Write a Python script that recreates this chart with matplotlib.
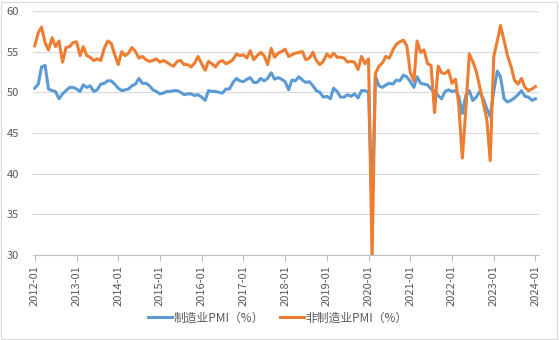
import matplotlib
matplotlib.use("Agg")
import matplotlib.pyplot as plt
import matplotlib.dates as mdates
import matplotlib.patches as patches
import pandas as pd

plt.rcParams['font.family'] = ['Noto Sans CJK SC', 'DejaVu Sans']

# monthly, 2012-01 .. 2024-01
months = pd.date_range('2012-01-01', periods=145, freq='MS')

# 制造业PMI
mfg_pmi = [
    50.5, 51.0, 53.1, 53.3, 50.4, 50.2, 50.1, 49.2, 49.8, 50.2, 50.6, 50.6,
    50.4, 50.1, 50.9, 50.6, 50.8, 50.1, 50.3, 51.0, 51.1, 51.4, 51.4, 51.0,
    50.5, 50.2, 50.3, 50.4, 50.8, 51.0, 51.7, 51.1, 51.1, 50.8, 50.3, 50.1,
    49.8, 49.9, 50.1, 50.1, 50.2, 50.2, 50.0, 49.7, 49.8, 49.8, 49.6, 49.7,
    49.4, 49.0, 50.2, 50.1, 50.1, 50.0, 49.9, 50.4, 50.4, 51.2, 51.7, 51.4,
    51.3, 51.6, 51.8, 51.2, 51.2, 51.7, 51.4, 51.7, 52.4, 51.6, 51.8, 51.6,
    51.3, 50.3, 51.5, 51.4, 51.9, 51.5, 51.2, 51.3, 50.8, 50.2, 50.0, 49.4,
    49.5, 49.2, 50.5, 50.1, 49.4, 49.4, 49.7, 49.5, 49.8, 49.3, 50.2, 50.2,
    50.0, 35.7, 52.0, 50.8, 50.6, 50.9, 51.1, 51.0, 51.5, 51.4, 52.1, 51.9,
    51.3, 50.6, 51.9, 51.1, 51.0, 50.9, 50.4, 50.1, 49.6, 49.2, 50.1, 50.3,
    50.1, 50.2, 49.5, 47.4, 49.6, 50.2, 49.0, 49.4, 50.1, 49.2, 48.0, 47.0,
    50.1, 52.6, 51.9, 49.2, 48.8, 49.0, 49.3, 49.7, 50.2, 49.5, 49.4, 49.0,
    49.2,
]

# 非制造业PMI
non_mfg_pmi = [
    55.7, 57.3, 58.0, 56.1, 55.2, 56.7, 55.6, 56.3, 53.7, 55.5, 55.6, 56.1,
    56.2, 54.5, 55.6, 54.5, 54.3, 53.9, 54.1, 53.9, 55.4, 56.3, 56.0, 54.6,
    53.4, 55.0, 54.5, 54.8, 55.5, 55.0, 54.2, 54.4, 54.0, 53.8, 53.9, 54.1,
    53.7, 53.9, 53.7, 53.4, 53.2, 53.8, 53.9, 53.4, 53.4, 53.1, 53.6, 54.4,
    53.5, 52.7, 53.8, 53.5, 53.1, 53.7, 53.9, 53.5, 53.7, 54.0, 54.7, 54.5,
    54.6, 54.2, 55.1, 54.0, 54.5, 54.9, 54.5, 53.4, 55.4, 54.3, 54.8, 55.0,
    55.3, 54.4, 54.6, 54.8, 54.9, 55.0, 54.0, 54.2, 54.9, 53.9, 53.4, 53.8,
    54.7, 54.3, 54.8, 54.3, 54.3, 54.2, 53.7, 53.8, 53.7, 52.8, 54.4, 53.5,
    54.1, 29.6, 52.3, 53.2, 53.6, 54.4, 54.2, 55.2, 55.9, 56.2, 56.4, 55.7,
    52.4, 51.4, 56.3, 54.9, 55.2, 53.5, 53.3, 47.5, 53.2, 52.4, 52.3, 52.7,
    51.1, 51.6, 48.4, 41.9, 47.8, 54.7, 53.8, 52.6, 50.6, 48.7, 46.7, 41.6,
    54.4, 56.3, 58.2, 56.4, 54.5, 53.2, 51.5, 51.0, 51.7, 50.6, 50.2, 50.4,
    50.7,
]

series_labels = ['制造业PMI（%）', '非制造业PMI（%）']

fig = plt.figure(figsize=(5.59, 3.40), dpi=100)
ax = fig.add_axes([0.059, 0.25, 0.905, 0.718])

ax.plot(months, mfg_pmi, color='#5B9BD5', lw=2.2, label=series_labels[0])
ax.plot(months, non_mfg_pmi, color='#ED7D31', lw=2.2, label=series_labels[1])

ax.set_ylim(30, 60)
ax.set_yticks(range(30, 61, 5))
ax.set_xlim(months[0] - pd.Timedelta(days=15), months[-1] + pd.Timedelta(days=30))
ax.xaxis.set_major_locator(mdates.MonthLocator(bymonth=1))
ax.xaxis.set_major_formatter(mdates.DateFormatter('%Y-%m'))
plt.setp(ax.get_xticklabels(), rotation=90)

ax.grid(axis='y', color='#D9D9D9', lw=0.8)
ax.set_axisbelow(True)
for s in ['top', 'right', 'left']:
    ax.spines[s].set_visible(False)
ax.spines['bottom'].set_color('#BFBFBF')
ax.tick_params(axis='x', colors='#BFBFBF', labelcolor='#595959', labelsize=8, length=4, width=0.8)
ax.tick_params(axis='y', length=0, labelcolor='#595959', labelsize=8, pad=10)

fig.legend(loc='center', bbox_to_anchor=(0.497, 0.065), ncol=2, frameon=False,
           fontsize=8.5, handlelength=2.0, handletextpad=0.15, columnspacing=1.4,
           labelcolor='#595959')

# chart area border
fig.add_artist(patches.Rectangle((0.002, 0.003), 0.994, 0.992, transform=fig.transFigure,
                                 fill=False, edgecolor='#D9D9D9', lw=0.8))

fig.savefig('out.png', dpi=100)
